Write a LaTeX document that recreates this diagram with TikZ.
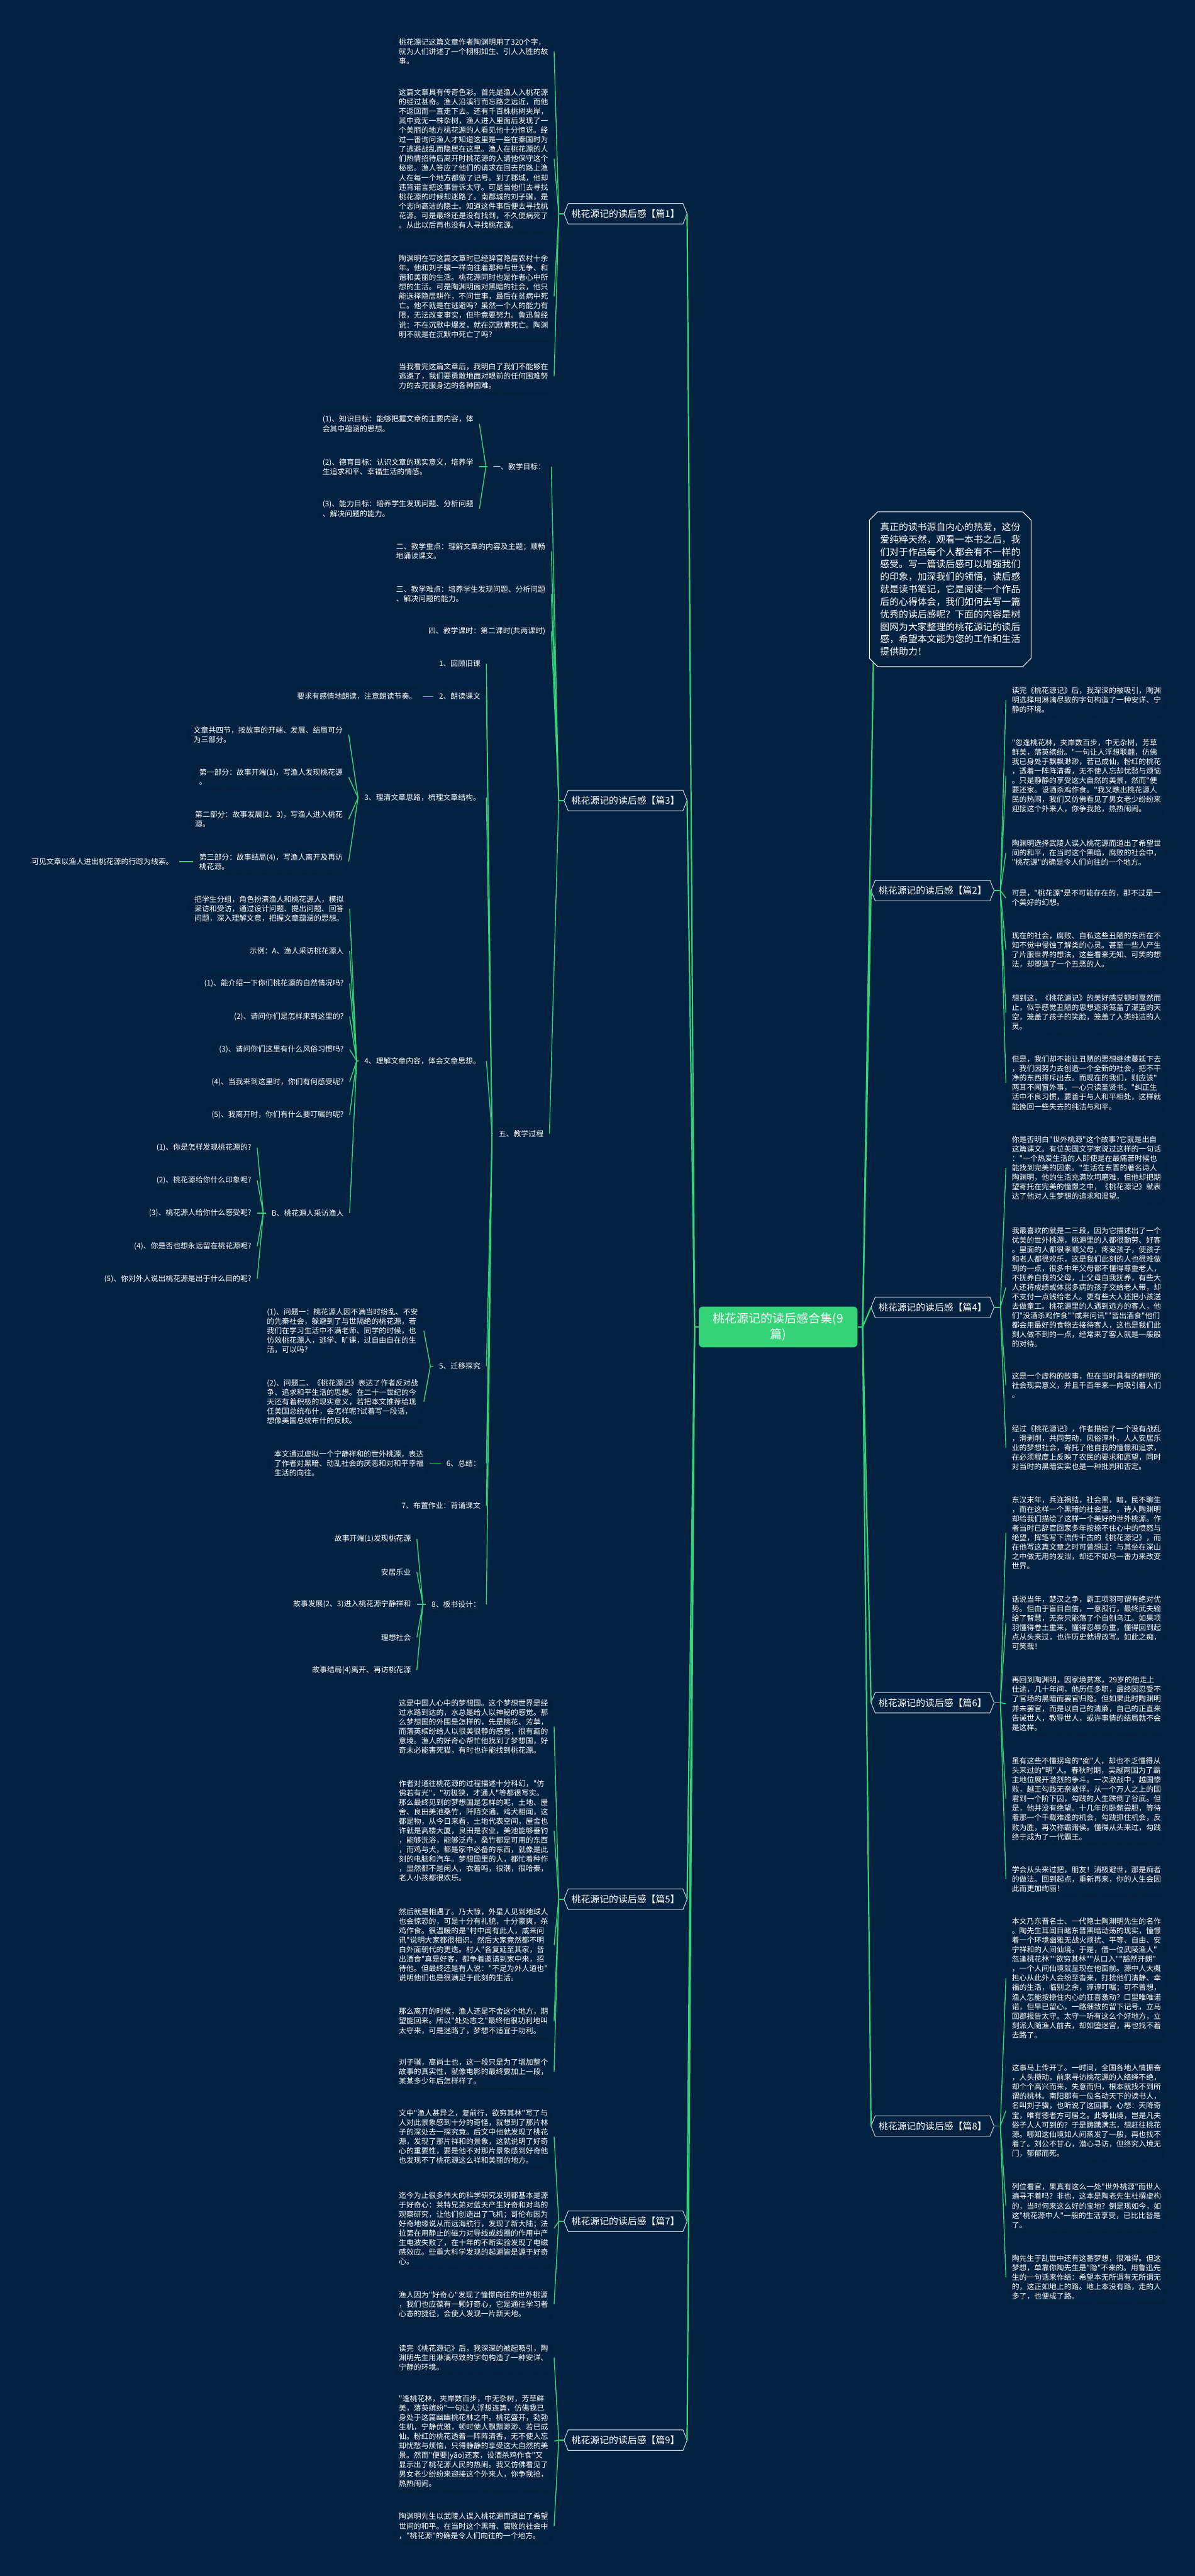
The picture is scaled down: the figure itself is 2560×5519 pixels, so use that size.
\documentclass[tikz,border=0pt]{standalone}
\usepackage{fontspec}
\usepackage{tikz}
\usetikzlibrary{calc,shapes.misc}

\newfontfamily\cjk{Noto Sans CJK SC}
\newcommand\bodyfont{\cjk\fontsize{9.1pt}{11.55pt}\selectfont}
\newcommand\branchfont{\cjk\fontsize{11.4pt}{13pt}\selectfont}
\newcommand\notefont{\cjk\fontsize{11.4pt}{15.2pt}\selectfont}
\newcommand\rootfont{\cjk\fontsize{14.6pt}{19pt}\selectfont}

\definecolor{navy}{RGB}{3,33,64}
\definecolor{leaf}{RGB}{52,211,120}
\definecolor{rim}{RGB}{12,24,40}
\definecolor{pale}{RGB}{200,210,220}

\begin{document}
\begin{tikzpicture}[x=0.02cm, y=-0.02cm]
\tikzstyle{note}=[align=left, text=white, font=\bodyfont, inner xsep=7pt, inner ysep=4.6pt]
\tikzstyle{leftnote}=[note, anchor=east]
\tikzstyle{rightnote}=[note, anchor=west]
\tikzstyle{branch}=[text=white, font=\branchfont, inner xsep=9pt, inner ysep=7pt]
\tikzstyle{link}=[draw=leaf, line width=1.1pt]
\tikzstyle{trunk}=[draw=leaf, line width=1.7pt]
\tikzstyle{rimline}=[draw=rim, densely dotted, line width=0.7pt]
\tikzstyle{branchline}=[draw=pale, line width=0.8pt]

\fill[navy] (0,0) rectangle (2560,5519);

% centre and intro
\node[fill=leaf, rounded corners=5pt, text=white, font=\rootfont, align=center, minimum width=6.8cm, minimum height=1.75cm] (root) at (1667,2843) {桃花源记的读后感合集(9\\篇)};
\node[chamfered rectangle, chamfered rectangle sep=5pt, draw=white, line width=0.8pt, text=white, font=\notefont, align=left, inner xsep=8pt, inner ysep=8pt, anchor=north west] (intro) at (1871,1105) {真正的读书源自内心的热爱，这份\\爱纯粹天然，观看一本书之后，我\\们对于作品每个人都会有不一样的\\感受。写一篇读后感可以增强我们\\的印象，加深我们的领悟，读后感\\就是读书笔记，它是阅读一个作品\\后的心得体会，我们如何去写一篇\\优秀的读后感呢？下面的内容是树\\图网为大家整理的桃花源记的读后\\感，希望本文能为您的工作和生活\\提供助力！};

% branches
\node[branch, anchor=east] (b1) at (1472,458) {桃花源记的读后感【篇1】};
\node[branch, anchor=east] (b3) at (1472,1715) {桃花源记的读后感【篇3】};
\node[branch, anchor=east] (b5) at (1472,4069) {桃花源记的读后感【篇5】};
\node[branch, anchor=east] (b7) at (1472,4759) {桃花源记的读后感【篇7】};
\node[branch, anchor=east] (b9) at (1472,5228) {桃花源记的读后感【篇9】};
\node[branch, anchor=west] (b2) at (1866,1908) {桃花源记的读后感【篇2】};
\node[branch, anchor=west] (b4) at (1866,2801) {桃花源记的读后感【篇4】};
\node[branch, anchor=west] (b6) at (1866,3648) {桃花源记的读后感【篇6】};
\node[branch, anchor=west] (b8) at (1866,4555) {桃花源记的读后感【篇8】};

% pian 1
\node[leftnote] (n1a) at (1187,110) {桃花源记这篇文章作者陶渊明用了320个字，\\就为人们讲述了一个栩栩如生、引人入胜的故\\事。};
\node[leftnote] (n1b) at (1187,340) {这篇文章具有传奇色彩。首先是渔人入桃花源\\的经过甚奇。渔人沿溪行而忘路之远近，而他\\不返回而一直走下去。还有千百株桃树夹岸，\\其中竟无一株杂树，渔人进入里面后发现了一\\个美丽的地方桃花源的人看见他十分惊讶。经\\过一番询问渔人才知道这里是一些在秦国时为\\了逃避战乱而隐居在这里。渔人在桃花源的人\\们热情招待后离开时桃花源的人请他保守这个\\秘密。渔人答应了他们的请求在回去的路上渔\\人在每一个地方都做了记号。到了郡城，他却\\违背诺言把这事告诉太守。可是当他们去寻找\\桃花源的时候却迷路了。南郡城的刘子骥，是\\个志向高洁的隐士。知道这件事后便去寻找桃\\花源。可是最终还是没有找到，不久便病死了\\。从此以后再也没有人寻找桃花源。};
\node[leftnote] (n1c) at (1187,635) {陶渊明在写这篇文章时已经辞官隐居农村十余\\年。他和刘子骥一样向往着那种与世无争、和\\谐和美丽的生活。桃花源同时也是作者心中所\\想的生活。可是陶渊明面对黑暗的社会，他只\\能选择隐居耕作，不问世事，最后在贫病中死\\亡。他不就是在逃避吗？虽然一个人的能力有\\限，无法改变事实，但毕竟要努力。鲁迅曾经\\说：不在沉默中爆发，就在沉默著死亡。陶渊\\明不就是在沉默中死亡了吗？};
\node[leftnote] (n1d) at (1187,806) {当我看完这篇文章后，我明白了我们不能够在\\逃避了，我们要勇敢地面对眼前的任何困难努\\力的去克服身边的各种困难。};

% pian 3
\node[leftnote] (t1) at (1181,1000) {一、教学目标：};
\node[leftnote] (t1a) at (1027,908) {(1)、知识目标：能够把握文章的主要内容，体\\会其中蕴涵的思想。};
\node[leftnote] (t1b) at (1027,1000) {(2)、德育目标：认识文章的现实意义，培养学\\生追求和平、幸福生活的情感。};
\node[leftnote] (t1c) at (1027,1090) {(3)、能力目标：培养学生发现问题、分析问题\\、解决问题的能力。};
\node[leftnote] (t2) at (1181,1181) {二、教学重点：理解文章的内容及主题；顺畅\\地诵读课文。};
\node[leftnote] (t3) at (1181,1272) {三、教学难点：培养学生发现问题、分析问题\\、解决问题的能力。};
\node[leftnote] (t4) at (1181,1352) {四、教学课时：第二课时(共两课时)};
\node[leftnote] (t5) at (1177,2429) {五、教学过程};

\node[leftnote] (q1) at (1042,1422) {1、回顾旧课};
\node[leftnote] (q2) at (1042,1492) {2、朗读课文};
\node[leftnote] (q2a) at (905,1492) {要求有感情地朗读，注意朗读节奏。};
\node[leftnote] (q3) at (1042,1709) {3、理清文章思路，梳理文章结构。};
\node[leftnote] (q3a) at (747,1574) {文章共四节，按故事的开端、发展、结局可分\\为三部分。};
\node[leftnote] (q3b) at (747,1665) {第一部分：故事开端(1)，写渔人发现桃花源\\。};
\node[leftnote] (q3c) at (747,1755) {第二部分：故事发展(2、3)，写渔人进入桃花\\源。};
\node[leftnote] (q3d) at (747,1846) {第三部分：故事结局(4)，写渔人离开及再访\\桃花源。};
\node[leftnote] (q3e) at (384,1846) {可见文章以渔人进出桃花源的行踪为线索。};
\node[leftnote] (q4) at (1042,2273) {4、理解文章内容，体会文章思想。};
\node[leftnote] (q4a) at (749,1947) {把学生分组，角色扮演渔人和桃花源人，模拟\\采访和受访，通过设计问题、提出问题、回答\\问题，深入理解文意，把握文章蕴涵的思想。};
\node[leftnote] (q4b) at (749,2037) {示例：A、渔人采访桃花源人};
\node[leftnote] (q4c) at (749,2107) {(1)、能介绍一下你们桃花源的自然情况吗?};
\node[leftnote] (q4d) at (749,2178) {(2)、请问你们是怎样来到这里的?};
\node[leftnote] (q4e) at (749,2248) {(3)、请问你们这里有什么风俗习惯吗?};
\node[leftnote] (q4f) at (749,2318) {(4)、当我来到这里时，你们有何感受呢?};
\node[leftnote] (q4g) at (749,2389) {(5)、我离开时，你们有什么要叮嘱的呢?};
\node[leftnote] (q4h) at (749,2599) {B、桃花源人采访渔人};
\node[leftnote] (qb1) at (551,2459) {(1)、你是怎样发现桃花源的?};
\node[leftnote] (qb2) at (551,2529) {(2)、桃花源给你什么印象呢?};
\node[leftnote] (qb3) at (551,2599) {(3)、桃花源人给你什么感受呢?};
\node[leftnote] (qb4) at (551,2670) {(4)、你是否也想永远留在桃花源呢?};
\node[leftnote] (qb5) at (551,2740) {(5)、你对外人说出桃花源是出于什么目的呢?};
\node[leftnote] (q5) at (1042,2927) {5、迁移探究};
\node[leftnote] (q5a) at (908,2851) {(1)、问题一：桃花源人因不满当时纷乱、不安\\的先秦社会，躲避到了与世隔绝的桃花源，若\\我们在学习生活中不满老师、同学的时候，也\\仿效桃花源人，逃学、旷课，过自由自在的生\\活，可以吗?};
\node[leftnote] (q5b) at (908,3003) {(2)、问题二、《桃花源记》表达了作者反对战\\争、追求和平生活的思想。在二十一世纪的今\\天还有着积极的现实意义，若把本文推荐给现\\任美国总统布什，会怎样呢?试着写一段话，\\想像美国总统布什的反映。};
\node[leftnote] (q6) at (1042,3135) {6、总结：};
\node[leftnote] (q6a) at (920,3135) {本文通过虚拟一个宁静祥和的世外桃源，表达\\了作者对黑暗、动乱社会的厌恶和对和平幸福\\生活的向往。};
\node[leftnote] (q7) at (1042,3226) {7、布置作业：背诵课文};
\node[leftnote] (q8) at (1042,3437) {8、板书设计：};
\node[leftnote] (q8a) at (893,3297) {故事开端(1)发现桃花源};
\node[leftnote] (q8b) at (893,3368) {安居乐业};
\node[leftnote] (q8c) at (893,3437) {故事发展(2、3)进入桃花源宁静祥和};
\node[leftnote] (q8d) at (893,3508) {理想社会};
\node[leftnote] (q8e) at (893,3578) {故事结局(4)离开、再访桃花源};

% pian 5
\node[leftnote] (n5a) at (1187,3699) {这是中国人心中的梦想国。这个梦想世界是经\\过水路到达的，水总是给人以神秘的感觉。那\\么梦想国的外围是怎样的，先是桃花、芳草，\\而落英缤纷给人以很美很静的感觉，很有画的\\意境。渔人的好奇心帮忙他找到了梦想国，好\\奇未必能害死猫，有时也许能找到桃花源。};
\node[leftnote] (n5b) at (1187,3922) {作者对通往桃花源的过程描述十分科幻，"仿\\佛若有光"，"初极狭，才通人"等都很写实。\\那么最终见到的梦想国是怎样的呢，土地、屋\\舍、良田美池桑竹，阡陌交通，鸡犬相闻，这\\都是物，从今日来看，土地代表空间，屋舍也\\许就是高楼大厦，良田是农业，美池能够垂钓\\，能够洗浴，能够泛舟，桑竹都是可用的东西\\，而鸡与犬，都是家中必备的东西，就像是此\\刻的电脑和汽车。梦想国里的人，都忙着种作\\，显然都不是闲人，衣着吗，很潮，很哈秦，\\老人小孩都很欢乐。};
\node[leftnote] (n5c) at (1187,4167) {然后就是相遇了。乃大惊，外星人见到地球人\\也会惊恐的，可是十分有礼貌，十分豪爽，杀\\鸡作食。很温暖的是"村中闻有此人，咸来问\\讯"说明大家都很相识。然后大家竟然都不明\\白外面朝代的更迭。村人"各复延至其家，皆\\出酒食"真是好客，都争着邀请到家中来，招\\待他。但最终还是有人说："不足为外人道也"\\说明他们也是很满足于此刻的生活。};
\node[leftnote] (n5d) at (1187,4330) {那么离开的时候，渔人还是不舍这个地方，期\\望能回来。所以"处处志之"最终他很功利地叫\\太守来，可是迷路了，梦想不适宜于功利。};
\node[leftnote] (n5e) at (1187,4438) {刘子骥，高尚士也，这一段只是为了增加整个\\故事的真实性，就像电影的最终要加上一段，\\某某多少年后怎样样了。};

% pian 7
\node[leftnote] (n7a) at (1187,4578) {文中"渔人甚异之，复前行，欲穷其林"写了与\\人对此景象感到十分的奇怪，就想到了那片林\\子的深处去一探究竟。后文中他就发现了桃花\\源，发现了那片祥和的景象，这就说明了好奇\\心的重要性，要是他不对那片景象感到好奇他\\也发现不了桃花源这么祥和美丽的地方。};
\node[leftnote] (n7b) at (1187,4774) {迄今为止很多伟大的科学研究发明都基本是源\\于好奇心：莱特兄弟对蓝天产生好奇和对鸟的\\观察研究，让他们创造出了飞机；哥伦布因为\\好奇地缘说从而远海航行，发现了新大陆；法\\拉第在用静止的磁力对导线或线圈的作用中产\\生电波失败了，在十年的不断实验发现了电磁\\感效应。些重大科学发现的起源皆是源于好奇\\心。};
\node[leftnote] (n7c) at (1187,4937) {渔人因为"好奇心"发现了憧憬向往的世外桃源\\，我们也应葆有一颗好奇心，它是通往学习者\\心态的捷径，会使人发现一片新天地。};

% pian 9
\node[leftnote] (n9a) at (1187,5051) {读完《桃花源记》后，我深深的被起吸引，陶\\渊明先生用淋漓尽致的字句构造了一种安详、\\宁静的环境。};
\node[leftnote] (n9b) at (1187,5230) {"逢桃花林，夹岸数百步，中无杂树，芳草鲜\\美，落英缤纷"一句让人浮想连篇，仿佛我已\\身处于这篇幽幽桃花林之中。桃花盛开，勃勃\\生机，宁静优雅，顿时使人飘飘渺渺、若已成\\仙。粉红的桃花透着一阵阵清香，无不使人忘\\却忧愁与烦恼，只得静静的享受这大自然的美\\景。然而"便要(yāo)还家，设酒杀鸡作食"又\\显示出了桃花源人民的热闹。我又仿佛看见了\\男女老少纷纷来迎接这个外来人，你争我抢，\\热热闹闹。};
\node[leftnote] (n9c) at (1187,5412) {陶渊明先生以武陵人误入桃花源而道出了希望\\世间的和平。在当时这个黑暗、腐败的社会中\\，"桃花源"的确是令人们向往的一个地方。};

% pian 2
\node[rightnote] (n2a) at (2155,1500) {读完《桃花源记》后，我深深的被吸引，陶渊\\明选择用淋漓尽致的字句构造了一种安详、宁\\静的环境。};
\node[rightnote] (n2b) at (2155,1662) {"忽逢桃花林，夹岸数百步，中无杂树，芳草\\鲜美，落英缤纷。"一句让人浮想联翩，仿佛\\我已身处于飘飘渺渺，若已成仙，粉红的桃花\\，透着一阵阵清香，无不使人忘却忧愁与烦恼\\。只是静静的享受这大自然的美景，然而"便\\要还家。设酒杀鸡作食。"我又瞧出桃花源人\\民的热闹，我们又仿佛看见了男女老少纷纷来\\迎接这个外来人，你争我抢，热热闹闹。};
\node[rightnote] (n2c) at (2155,1827) {陶渊明选择武陵人误入桃花源而道出了希望世\\间的和平，在当时这个黑暗，腐败的社会中，\\"桃花源"的确是令人们向往的一个地方。};
\node[rightnote] (n2d) at (2155,1924) {可是，"桃花源"是不可能存在的，那不过是一\\个美好的幻想。};
\node[rightnote] (n2e) at (2155,2035) {现在的社会，腐败、自私这些丑陋的东西在不\\知不觉中侵蚀了解类的心灵。甚至一些人产生\\了片服世界的想法，这些看来无知、可笑的想\\法，却塑造了一个丑恶的人。};
\node[rightnote] (n2f) at (2155,2169) {想到这，《桃花源记》的美好感觉顿时戛然而\\止，似乎感觉丑陋的思想逐渐笼盖了湛蓝的天\\空，笼盖了孩子的笑脸，笼盖了人类纯洁的人\\灵。};
\node[rightnote] (n2g) at (2155,2320) {但是，我们却不能让丑陋的思想继续蔓延下去\\，我们因努力去创造一个全新的社会，把不干\\净的东西排斥出去。而现在的我们，则应该"\\两耳不闻窗外事，一心只读圣贤书。"纠正生\\活中不良习惯，要善于与人和平相处，这样就\\能挽回一些失去的纯洁与和平。};

% pian 4
\node[rightnote] (n4a) at (2155,2502) {你是否明白"世外桃源"这个故事?它就是出自\\这篇课文。有位英国文学家说过这样的一句话\\："一个热爱生活的人即使是在最痛苦时候也\\能找到完美的因素。"生活在东晋的著名诗人\\陶渊明，他的生活充满坎坷磨难，但他却把期\\望寄托在完美的憧憬之中，《桃花源记》就表\\达了他对人生梦想的追求和渴望。};
\node[rightnote] (n4b) at (2155,2758) {我最喜欢的就是二三段，因为它描述出了一个\\优美的世外桃源，桃源里的人都很勤劳、好客\\。里面的人都很孝顺父母，疼爱孩子，使孩子\\和老人都很欢乐，这是我们此刻的人也很难做\\到的一点，很多中年父母都不懂得尊重老人，\\不抚养自我的父母，上父母自我抚养，有些大\\人还将成绩或体弱多病的孩子交给老人带，却\\不支付一点钱给老人。更有些大人还把小孩送\\去做童工。桃花源里的人遇到远方的客人，他\\们"没酒杀鸡作食""咸来问讯""皆出酒食"他们\\都会用最好的食物去接待客人，这也是我们此\\刻人做不到的一点，经常来了客人就是一般般\\的对待。};
\node[rightnote] (n4c) at (2155,2968) {这是一个虚构的故事，但在当时具有的鲜明的\\社会现实意义，并且千百年来一向吸引着人们\\。};
\node[rightnote] (n4d) at (2155,3102) {经过《桃花源记》，作者描绘了一个没有战乱\\，滑剥削，共同劳动，风俗淳朴，人人安居乐\\业的梦想社会，寄托了他自我的憧憬和追求，\\在必须程度上反映了农民的要求和愿望，同时\\对当时的黑暗实实也是一种批判和否定。};

% pian 6
\node[rightnote] (n6a) at (2155,3284) {东汉末年，兵连祸结，社会黑，暗，民不聊生\\，而在这样一个黑暗的社会里。，诗人陶渊明\\却给我们描绘了这样一个美好的世外桃源。作\\者当时已辞官回家多年按捺不住心中的愤怒与\\绝望，挥笔写下流传千古的《桃花源记》，而\\在他写这篇文章之时可曾想过：与其坐在深山\\之中做无用的发泄，却还不如尽一番力来改变\\世界。};
\node[rightnote] (n6b) at (2155,3477) {话说当年，楚汉之争，霸王项羽可谓有绝对优\\势。但由于盲目自信，一意孤行，最终武夫输\\给了智慧，无奈只能落了个自刎乌江。如果项\\羽懂得卷土重来，懂得忍辱负重，懂得回到起\\点从头来过，也许历史就得改写。如此之痴，\\可笑哉！};
\node[rightnote] (n6c) at (2155,3650) {再回到陶渊明，因家境贫寒，29岁的他走上\\仕途，几十年间，他历任多职，最终因忍受不\\了官场的黑暗而罢官归隐。但如果此时陶渊明\\并未罢官，而是以自己的清廉，自己的正直来\\告诫世人，教导世人，或许事情的结局就不会\\是这样。};
\node[rightnote] (n6d) at (2155,3854) {虽有这些不懂拐弯的"痴"人，却也不乏懂得从\\头来过的"明"人。春秋时期，吴越两国为了霸\\主地位展开激烈的争斗。一次激战中，越国惨\\败，越王勾践无奈被俘。从一个万人之上的国\\君到一个阶下囚，勾践的人生跌倒了谷底。但\\是，他并没有绝望。十几年的卧薪尝胆，等待\\着那一个千载难逢的机会，勾践抓住机会，反\\败为胜，再次称霸诸侯。懂得从头来过，勾践\\终于成为了一代霸王。};
\node[rightnote] (n6e) at (2155,4026) {学会从头来过把，朋友！消极避世，那是痴者\\的做法。回到起点，重新再来，你的人生会因\\此而更加绚丽！};

% pian 8
\node[rightnote] (n8a) at (2155,4238) {本文乃东晋名士、一代隐士陶渊明先生的名作\\。陶先生耳闻目睹东晋黑暗动荡的现实，憧憬\\着一个环境幽雅无战火烦扰、平等、自由、安\\宁祥和的人间仙境。于是，借一位武陵渔人"\\忽逢桃花林""欲穷其林""从口入""豁然开朗"\\，一个人间仙境就呈现在他面前。源中人大概\\担心从此外人会纷至沓来，打扰他们清静、幸\\福的生活，临别之余，谆谆叮嘱；可不曾想，\\渔人怎能按捺住内心的狂喜激动？口里唯唯诺\\诺，但早已留心，一路细致的留下记号，立马\\回郡报告太守。太守一听有这么个好地方，立\\刻派人随渔人前去，却如堕迷宫，再也找不着\\去路了。};
\node[rightnote] (n8b) at (2155,4522) {这事马上传开了。一时间，全国各地人情振奋\\，人头攒动，前来寻访桃花源的人络绎不绝，\\却个个高兴而来，失意而归，根本就找不到所\\谓的桃林。南阳郡有一位名动天下的读书人，\\名叫刘子骥，也听说了这回事，心想：天降奇\\宝，唯有德者方可居之。此等仙境，岂是凡夫\\俗子人人可到的？于是踌躇满志，想赶往桃花\\源。哪知这仙境如人间蒸发了一般，再也找不\\着了。刘公不甘心，潜心寻访，但终究入境无\\门，郁郁而死。};
\node[rightnote] (n8c) at (2155,4726) {列位看官，果真有这么一处"世外桃源"而世人\\遍寻不着吗？非也，这本是陶老先生杜撰虚构\\的，当时何来这么好的宝地？倒是现如今，如\\这"桃花源中人"一般的生活享受，已比比皆是\\了。};
\node[rightnote] (n8d) at (2155,4879) {陶先生于乱世中还有这番梦想，很难得。但这\\梦想，单靠你陶先生是"隐"不来的。用鲁迅先\\生的一句话来作结：希望本无所谓有无所谓无\\的，这正如地上的路。地上本没有路，走的人\\多了，也便成了路。};

% outlines
\foreach \n in {n1a,n1b,n1c,n1d,t1,t1a,t1b,t1c,t2,t3,t4,t5,q1,q2,q2a,q3,q3a,q3b,q3c,q3d,q3e,q4,q4a,q4b,q4c,q4d,q4e,q4f,q4g,q4h,qb1,qb2,qb3,qb4,qb5,q5,q5a,q5b,q6,q6a,q7,q8,q8a,q8b,q8c,q8d,q8e,n5a,n5b,n5c,n5d,n5e,n7a,n7b,n7c,n9a,n9b,n9c,n2a,n2b,n2c,n2d,n2e,n2f,n2g,n4a,n4b,n4c,n4d,n6a,n6b,n6c,n6d,n6e,n8a,n8b,n8c,n8d}
  \draw[rimline] ($(\n.north west)+(10,0)$) -- ($(\n.north east)+(-10,0)$) -- (\n.east) -- ($(\n.south east)+(-10,0)$) -- ($(\n.south west)+(10,0)$) -- (\n.west) -- cycle;
\foreach \n in {b1,b2,b3,b4,b5,b6,b7,b8,b9}
  \draw[branchline] ($(\n.north west)+(9,0)$) -- ($(\n.north east)+(-9,0)$) -- (\n.east) -- ($(\n.south east)+(-9,0)$) -- ($(\n.south west)+(9,0)$) -- (\n.west) -- cycle;

% main connectors
\coordinate (cl) at (1488,2843);
\coordinate (cr) at (1848,2843);
\draw[trunk] (root.west) -- (cl);
\draw[trunk] (root.east) -- (cr);
\foreach \b in {b1,b3,b5,b7,b9} \draw[trunk] (cl) -- (\b.east);
\foreach \b in {b2,b4,b6,b8} \draw[trunk] (cr) -- (\b.west);
\draw[trunk] (cr) -- (intro.south west);

% left fans
\coordinate (f1) at (1197,458);
\coordinate (f3) at (1197,1715);
\coordinate (f5) at (1197,4069);
\coordinate (f7) at (1197,4759);
\coordinate (f9) at (1197,5228);
\draw[link] (b1.west) -- (f1);
\draw[link] (b3.west) -- (f3);
\draw[link] (b5.west) -- (f5);
\draw[link] (b7.west) -- (f7);
\draw[link] (b9.west) -- (f9);
\foreach \n in {n1a,n1b,n1c,n1d} \draw[link] (f1) -- (\n.east);
\foreach \n in {t1,t2,t3,t4,t5} \draw[link] (f3) -- (\n.east);
\foreach \n in {n5a,n5b,n5c,n5d,n5e} \draw[link] (f5) -- (\n.east);
\foreach \n in {n7a,n7b,n7c} \draw[link] (f7) -- (\n.east);
\foreach \n in {n9a,n9b,n9c} \draw[link] (f9) -- (\n.east);

% lesson plan fans
\coordinate (ft1) at (1041,1000);
\coordinate (ft5) at (1054,2429);
\coordinate (fq3) at (767,1709);
\coordinate (fq4) at (764,2273);
\coordinate (fqb) at (564,2599);
\coordinate (fq5) at (922,2927);
\coordinate (fq8) at (906,3437);
\draw[link] (t1.west) -- (ft1);
\foreach \n in {t1a,t1b,t1c} \draw[link] (ft1) -- (\n.east);
\draw[link] (t5.west) -- (ft5);
\foreach \n in {q1,q2,q3,q4,q5,q6,q7,q8} \draw[link] (ft5) -- (\n.east);
\draw[link] (q2.west) -- (q2a.east);
\draw[link] (q3.west) -- (fq3);
\foreach \n in {q3a,q3b,q3c,q3d} \draw[link] (fq3) -- (\n.east);
\draw[link] (q3d.west) -- (q3e.east);
\draw[link] (q4.west) -- (fq4);
\foreach \n in {q4a,q4b,q4c,q4d,q4e,q4f,q4g,q4h} \draw[link] (fq4) -- (\n.east);
\draw[link] (q4h.west) -- (fqb);
\foreach \n in {qb1,qb2,qb3,qb4,qb5} \draw[link] (fqb) -- (\n.east);
\draw[link] (q5.west) -- (fq5);
\foreach \n in {q5a,q5b} \draw[link] (fq5) -- (\n.east);
\draw[link] (q6.west) -- (q6a.east);
\draw[link] (q8.west) -- (fq8);
\foreach \n in {q8a,q8b,q8c,q8d,q8e} \draw[link] (fq8) -- (\n.east);

% right fans
\coordinate (f2) at (2143,1908);
\coordinate (f4) at (2143,2801);
\coordinate (f6) at (2143,3648);
\coordinate (f8) at (2143,4555);
\draw[link] (b2.east) -- (f2);
\draw[link] (b4.east) -- (f4);
\draw[link] (b6.east) -- (f6);
\draw[link] (b8.east) -- (f8);
\foreach \n in {n2a,n2b,n2c,n2d,n2e,n2f,n2g} \draw[link] (f2) -- (\n.west);
\foreach \n in {n4a,n4b,n4c,n4d} \draw[link] (f4) -- (\n.west);
\foreach \n in {n6a,n6b,n6c,n6d,n6e} \draw[link] (f6) -- (\n.west);
\foreach \n in {n8a,n8b,n8c,n8d} \draw[link] (f8) -- (\n.west);

\end{tikzpicture}
\end{document}
